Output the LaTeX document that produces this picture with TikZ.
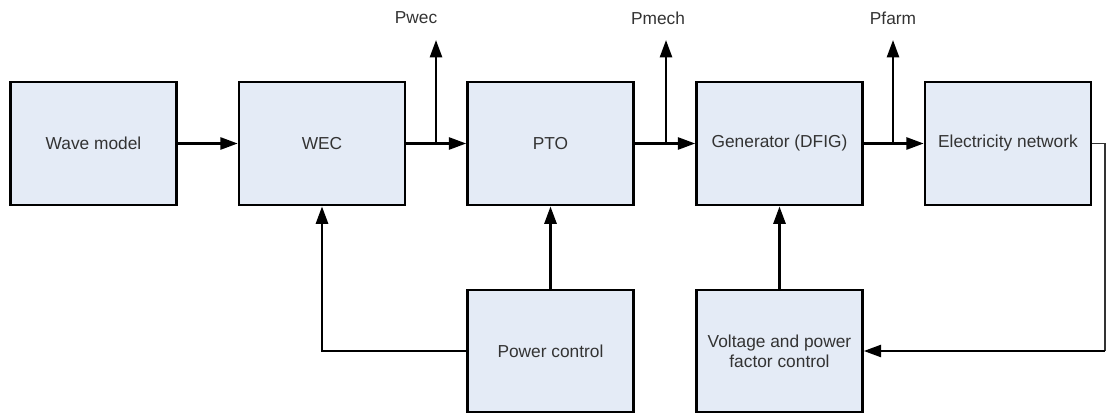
\documentclass[tikz,border=0pt]{standalone}
\usepackage{fontspec}
\setmainfont{Liberation Sans}
\usetikzlibrary{arrows.meta}
\definecolor{boxfill}{HTML}{E4EBF6}
\definecolor{txt}{HTML}{333333}
\tikzset{
  blockbox/.style={draw=black, fill=boxfill, line width=1.9pt, minimum width=124.5pt, minimum height=92.5pt, inner sep=0pt, text=txt, font=\fontsize{13}{15}\selectfont, align=center},
  ctrlbox/.style={blockbox, minimum height=91.5pt},
  flow/.style={line width=1.9pt, -{Triangle[length=13pt,width=9pt]}},
  plainline/.style={line width=1.9pt},
  thinline/.style={line width=0.9pt, draw=black!80},
  lbl/.style={text=txt, font=\fontsize{13}{15}\selectfont, inner sep=0pt}
}
\begin{document}
\begin{tikzpicture}[x=0.75pt,y=-0.75pt]
\useasboundingbox (0,0) rectangle (1106,417);
\node[blockbox] (wave) at (93.5,143.5) {Wave model};
\node[blockbox] (wec) at (322,143.5) {WEC};
\node[blockbox] (pto) at (550.5,143.5) {PTO};
\node[blockbox] (gen) at (779.5,143.5) {Generator (DFIG)};
\node[blockbox] (elec) at (1008,143.5) {Electricity network};
\node[ctrlbox] (pc) at (550.5,351) {Power control};
\node[ctrlbox] (vc) at (779.5,351) {Voltage and power\\factor control};

\coordinate (j1) at (436,143.5);
\coordinate (j2) at (666,143.5);
\coordinate (j3) at (893,143.5);
\coordinate (t1) at (436,40);
\coordinate (t2) at (666,40);
\coordinate (t3) at (893,40);
\node[lbl] (pwec) at (416,18) {Pwec};
\node[lbl] (pmech) at (658,18) {Pmech};
\node[lbl] (pfarm) at (893,18) {Pfarm};

\draw[flow] (wave) -- (wec);
\draw[flow] (wec) -- (pto);
\draw[flow] (pto) -- (gen);
\draw[flow] (gen) -- (elec);
\draw[flow] (j1) -- (t1);
\draw[flow] (j2) -- (t2);
\draw[flow] (j3) -- (t3);

\draw[flow] (pc) -- (pto);
\coordinate (c1) at (322,351);
\draw[flow] (pc.west) -- (c1) -- (wec.south);
\draw[flow] (vc) -- (gen);

\coordinate (r1) at (1105,143.5);
\coordinate (r2) at (1105,351);
\draw[thinline] (elec.east) -- (r1) -- (r2);
\draw[flow] (r2) -- (vc.east);
\end{tikzpicture}
\end{document}
